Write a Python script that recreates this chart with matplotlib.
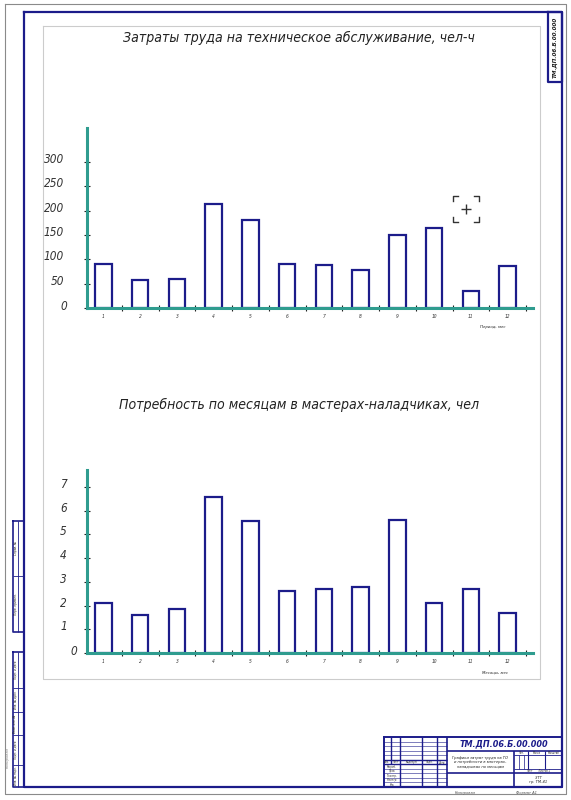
import matplotlib
matplotlib.use('Agg')
import matplotlib.pyplot as plt
import matplotlib.transforms as mtransforms

# данные графиков
months = list(range(1, 13))
month_labels = [str(m) for m in months]
labor_hours = [90, 57, 60, 214, 181, 90, 88, 78, 150, 165, 35, 86]
labor_ticks = [0, 50, 100, 150, 200, 250, 300]
adjusters = [2.1, 1.6, 1.85, 6.6, 5.55, 2.6, 2.7, 2.8, 5.6, 2.1, 2.7, 1.7]
adjuster_ticks = [0, 1, 2, 3, 4, 5, 6, 7]

title_top = "Затраты труда на техническое абслуживание, чел-ч"
title_bottom = "Потребность по месяцам в мастерах-наладчиках, чел"
xlabel_top = "Период, мес"
xlabel_bottom = "Месяцы, мес"
designation = "ТМ.ДП.06.Б.00.000"

W, H = 571, 800
NAVY = '#1c1c8a'
TEAL = '#2f9c8f'
FONT = ['DejaVu Sans']

fig = plt.figure(figsize=(W / 100, H / 100), dpi=100)
sheet = fig.add_axes([0, 0, 1, 1])
sheet.set_xlim(0, W)
sheet.set_ylim(H, 0)
sheet.axis('off')


def line(x0, y0, x1, y1, color=NAVY, lw=0.6):
    sheet.plot([x0, x1], [y0, y1], color=color, lw=lw, solid_capstyle='butt')


def box(x0, y0, x1, y1, color=NAVY, lw=1.6):
    sheet.plot([x0, x1, x1, x0, x0], [y0, y0, y1, y1, y0], color=color, lw=lw)


def txt(x, y, s, size=3, rot=0, color='#222222', **kw):
    sheet.text(x, y, s, fontsize=size, rotation=rot, color=color, ha='center',
               va='center', style='italic', family=FONT, stretch='condensed', **kw)


# рамка листа
box(5, 4, 566, 794, color='#8a8a8a', lw=0.8)
box(24, 12, 562, 787)
box(43, 26, 540, 679, color='#cccccc', lw=0.8)

# штамп сверху справа
box(548, 12, 562, 82)
txt(555.5, 47, designation, size=4.5, rot=90, weight='bold')

# боковые графы слева
box(13, 521, 24, 632, lw=1.2)
line(13, 576, 24, 576)
line(18, 521, 18, 632)
txt(15.5, 548, 'Справ. №', size=2.3, rot=90)
txt(15.5, 604, 'Перв. примен.', size=2.3, rot=90)
box(13, 652, 24, 787, lw=1.2)
line(18, 652, 18, 787)
for y in [688, 712, 735, 765]:
    line(13, y, 24, y)
side_names = ['Подп. и дата', 'Инв. № дубл.', 'Взам. инв. №', 'Подп. и дата', 'Инв. № подл.']
side_edges = [652, 688, 712, 735, 765, 787]
for name, ya, yb in zip(side_names, side_edges[:-1], side_edges[1:]):
    txt(15.5, (ya + yb) / 2, name, size=2.2, rot=90)
txt(8, 757, 'Копировал', size=3, rot=90, color='#888888')
txt(465, 793, 'Копировал', size=3, color='#555555')
txt(527, 793, 'Формат А1', size=3, color='#555555')

# основная надпись
X0, X1, Y0, Y1 = 384, 562, 737, 787
sx, sy = (X1 - X0) / 185, (Y1 - Y0) / 55


def tb(xa, ya, xb, yb, lw=0.5):
    line(X0 + xa * sx, Y0 + ya * sy, X0 + xb * sx, Y0 + yb * sy, lw=lw)


def tbt(xm, ym, s, size=2.4, **kw):
    txt(X0 + xm * sx, Y0 + ym * sy, s, size=size, **kw)


sheet.add_patch(plt.Rectangle((X0, Y0), X1 - X0, Y1 - Y0, facecolor='white',
                              edgecolor='none', zorder=0.5))
box(X0, Y0, X1, Y1, lw=1.4)
tb(7, 0, 7, 30, 1.0)
for xm in [17, 40, 55]:
    tb(xm, 0, xm, 55, 1.0)
tb(65, 0, 65, 55, 1.2)
for ym in [5, 10, 15, 20, 35, 40, 45, 50]:
    tb(0, ym, 65, ym, 0.4)
tb(0, 25, 65, 25, 1.0)
tb(0, 30, 65, 30, 1.0)
tb(65, 15, 185, 15, 1.2)
tb(65, 40, 185, 40, 1.2)
tb(135, 15, 135, 55, 1.2)
tb(135, 20, 185, 20, 0.6)
tb(135, 35, 185, 35, 0.6)
tb(150, 15, 150, 35, 0.8)
tb(167, 15, 167, 35, 0.8)
tb(140, 20, 140, 35, 0.5)
tb(145, 20, 145, 35, 0.5)
for xm, s in zip([3.5, 12, 28.5, 47.5, 60], ['Изм.', 'Лист', '№ докум.', 'Подп.', 'Дата']):
    tbt(xm, 27.5, s, size=2)
for ym, s in zip([32.5, 37.5, 42.5, 47.5, 52.5],
                 ['Разраб.', 'Пров.', 'Т.контр.', 'Н.контр.', 'Утв.']):
    tbt(8.5, ym, s, size=2)
tbt(125, 7.5, designation, size=6.5, weight='bold', color=NAVY)
tbt(100, 27.5, 'Графики затрат труда на ТО\nи потребности в мастерах-\nналадчиках по месяцам',
    size=3, linespacing=1.1)
tbt(142.5, 17.5, 'Лит.', size=2)
tbt(158.5, 17.5, 'Масса', size=2)
tbt(176, 17.5, 'Масштаб', size=2)
tbt(160, 37.5, 'Лист        Листов 1', size=2)
tbt(160, 47.5, 'ЗТТ\nгр. ТМ-41', size=3, linespacing=1.1)

# знак "+" в рамке
cx, cy, r, a = 466, 209, 13, 5
for dx in (-1, 1):
    for dy in (-1, 1):
        sheet.plot([cx + dx * r, cx + dx * r, cx + dx * (r - a)],
                   [cy + dy * (r - a), cy + dy * r, cy + dy * r], color='#333333', lw=1)
line(cx - 5, cy, cx + 5, cy, color='#333333', lw=1)
line(cx, cy - 5, cx, cy + 5, color='#333333', lw=1)


def chart(values, ticks, y_base, y_top, ymax, label_right, zero_dx, title, title_y,
          xlabel, xlabel_pos):
    x_left, x_right = 86.7, 533
    ax = fig.add_axes([x_left / W, (H - y_base) / H, (x_right - x_left) / W,
                       (y_base - y_top) / H])
    ax.patch.set_alpha(0)
    ax.bar(months, values, width=0.45, facecolor='white', edgecolor=NAVY,
           linewidth=1.6, zorder=3)
    ax.set_xlim(0.544, 12.69)
    ax.set_ylim(0, ymax)
    for s in ['top', 'right']:
        ax.spines[s].set_visible(False)
    for s in ['left', 'bottom']:
        ax.spines[s].set_color(TEAL)
        ax.spines[s].set_linewidth(2.2)
        ax.spines[s].set_zorder(4)
    ax.set_xticks(months, month_labels)
    ax.set_xticks([m + 0.5 for m in months], minor=True)
    ax.set_yticks(ticks, [str(t) for t in ticks])
    ax.tick_params(axis='x', which='major', length=0, pad=4, labelsize=3.5,
                   labelcolor='#333333')
    ax.tick_params(axis='x', which='minor', direction='inout', length=4, width=0.8,
                   color='#222222')
    pad = (x_left - label_right) / 100 * 72 - 2
    ax.tick_params(axis='y', direction='inout', length=4, width=0.8, color='#222222',
                   pad=pad, labelsize=8.5, labelcolor='#333333')
    for lab in ax.get_xticklabels():
        lab.set_fontstyle('italic')
        lab.set_family(FONT)
        lab.set_fontstretch('condensed')
    for lab, t in zip(ax.get_yticklabels(), ticks):
        lab.set_fontstyle('italic')
        lab.set_family(FONT)
        lab.set_fontstretch('condensed')
        dx = zero_dx if t == 0 else 0
        dy = 3 if t == 0 else 4
        off = mtransforms.ScaledTranslation(dx / 100, dy / 100, fig.dpi_scale_trans)
        lab.set_transform(lab.get_transform() + off)
    txt(299, title_y, title, size=10.1, color='#222222')
    txt(xlabel_pos[0], xlabel_pos[1], xlabel, size=3.2)
    return ax


chart(labor_hours, labor_ticks, 308, 128, 370, 64, 3, title_top, 38,
      xlabel_top, (493, 327))
chart(adjusters, adjuster_ticks, 653, 470, 7.72, 67, 10, title_bottom, 405,
      xlabel_bottom, (495, 673))

fig.savefig('out.png', dpi=100)
